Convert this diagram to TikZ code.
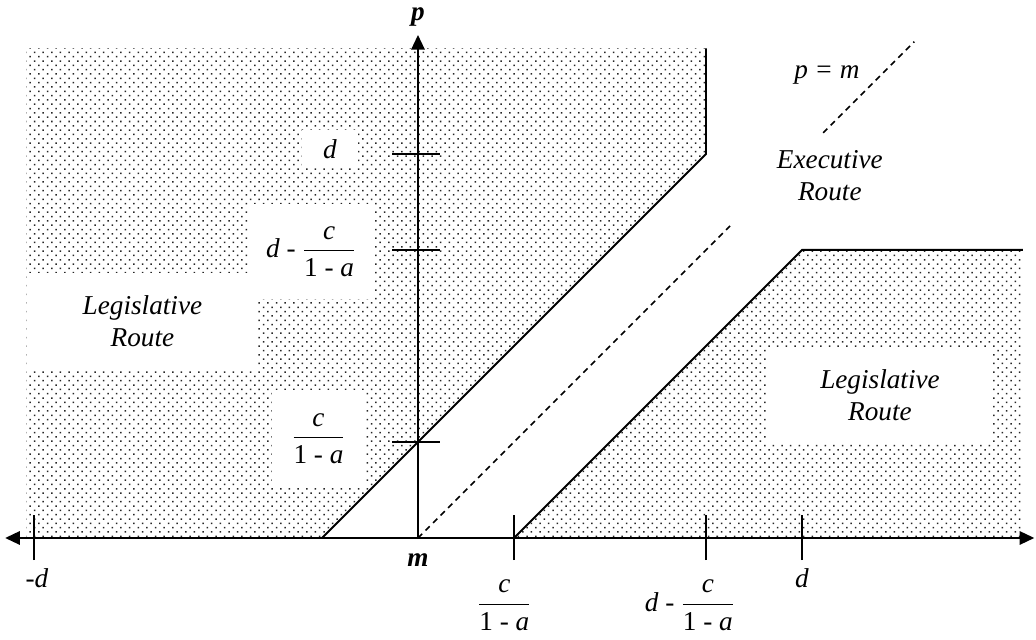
\documentclass[tikz,border=0pt]{standalone}
\usepackage{fontspec,amsmath}
\setmainfont{Liberation Serif}
\usetikzlibrary{arrows.meta,patterns.meta}
\newcommand\ratiofrac{$\dfrac{\textit{c}}{\text{\upshape 1 - \itshape a}}$}

\begin{document}
\begin{tikzpicture}[x=1in,y=1in,font=\fontsize{20.5}{24}\selectfont\itshape,
  axis/.style={line width=1.5pt},
  edge/.style={line width=1.5pt},
  stip/.style={pattern={Dots[distance=4.6pt,angle=45,radius=.8pt]},pattern color=black!85},
  blank/.style={fill=white,inner sep=0pt,align=center},
  tickmark/.style={line width=1.2pt}]
\useasboundingbox(-4.354,-1.0625)rectangle(6.4375,5.604);
% shaded regions
\coordinate(O)at(0,0);\coordinate(ua)at(-1,0);\coordinate(ub)at(3,4);\coordinate(uc)at(3,5.10);
\coordinate(la)at(1,0);\coordinate(lb)at(4,3);\coordinate(lc)at(6.3,3);
\fill[stip](-4.08,0)--(-4.08,5.10)--(uc)--(ub)--(ua)--cycle;
\fill[stip](la)--(lb)--(lc)--(6.3,0)--cycle;
% white label boxes
\node[blank,minimum width=.583in,minimum height=.396in](dbox)at(-.917,4.05){d};
\node[blank,minimum width=1.3in,minimum height=.98in](dcbox)at(-1.115,2.984){d - \ratiofrac};
\node[blank,minimum width=.97in,minimum height=1.01in](cbox)at(-1.036,1.036){\ratiofrac};
\node[blank,minimum width=2.385in,minimum height=1.01in](legl)at(-2.87,2.255){Legislative\\Route};
\node[blank,minimum width=2.354in,minimum height=1in](legr)at(4.8125,1.49){Legislative\\Route};
\node[align=center](exec)at(4.29,3.77){Executive\\Route};
% boundaries
\draw[edge](ua)--(ub)--(uc);\draw[edge](la)--(lb)--(lc);
% axes
\coordinate(mleft)at(-4.30,0);\coordinate(mright)at(6.42,0);\coordinate(ptop)at(0,5.24);
\draw[axis,{Triangle[length=11pt,width=10pt]}-{Triangle[length=11pt,width=10pt]}](mleft)--(mright);
\draw[axis,-{Triangle[length=11pt,width=10pt]}](O)--(ptop);
\foreach \x in {-4,1,3,4}\draw[tickmark](\x,-.23)--(\x,.24);
\foreach \y in {1,3,4}\draw[tickmark](-.27,\y)--(.23,\y);
% p = m
\draw[line width=1.1pt,dash pattern=on 4.5pt off 3.5pt](O)--(3.25,3.25);
\draw[line width=1.1pt,dash pattern=on 4.5pt off 3.5pt](4.22,4.22)--(5.17,5.17);
\node(pm)at(4.26,4.82){p = m};
% axis labels
\node[font=\fontsize{20.5}{24}\selectfont\bfseries\itshape](plab)at(0,5.43){p};
\node[font=\fontsize{20.5}{24}\selectfont\bfseries\itshape](mlab)at(0,-.23){m};
\node(mdlab)at(-3.97,-.42){-d};
\node(clab)at(.9,-.70){\ratiofrac};
\node(dclab)at(2.83,-.70){d - \ratiofrac};
\node(dlab)at(4,-.42){d};
\end{tikzpicture}
\end{document}
